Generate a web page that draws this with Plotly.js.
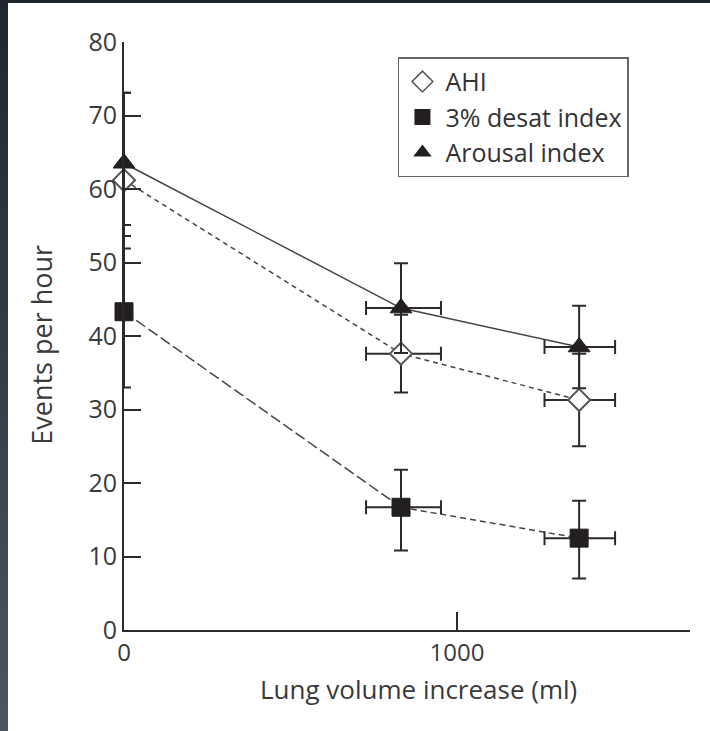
<!DOCTYPE html>
<html>
<head>
<meta charset="utf-8">
<script src="https://cdn.plot.ly/plotly-3.0.1.min.js"></script>
<style>
  html, body { margin: 0; padding: 0; }
  #frame { position: relative; width: 710px; height: 731px; background: linear-gradient(#1f262e, #4b5661); overflow: hidden; }
  #chart { position: absolute; left: 8px; top: 3px; width: 702px; height: 728px; background: #fff; }
</style>
</head>
<body>
<div id="frame"><div id="chart"></div></div>
<script>
// Lung volume increase (ml)
const volume = [0, 832, 1367];
const volumeErrMinus = [0, 105, 104];
const volumeErrPlus = [0, 120, 108];

// Events per hour
const ahi = [61.2, 37.6, 31.3];
const ahiErrPlus = [11.9, 5.3, 6.3];
const ahiErrMinus = [9.3, 5.3, 6.3];

const desat = [43.3, 16.7, 12.5];
const desatErrPlus = [10.3, 5.1, 5.1];
const desatErrMinus = [10.3, 5.9, 5.5];

const arousal = [63.5, 43.8, 38.5];
const arousalErrPlus = [9.6, 6.1, 5.6];
const arousalErrMinus = [8.4, 6.1, 5.6];

const seriesNames = ['AHI', '3% desat index', 'Arousal index'];
const xTickVals = [0, 1000];
const yTickVals = [0, 10, 20, 30, 40, 50, 60, 70, 80];
const xTitle = 'Lung volume increase (ml)';
const yTitle = 'Events per hour';

const ink = '#2b2b2b';
const lineInk = '#444';
const font = '"Open Sans", Lato, sans-serif';

function errY(plus, minus) {
  return { type: 'data', symmetric: false, array: plus, arrayminus: minus, color: ink, thickness: 2, width: 7 };
}
function errX() {
  return { type: 'data', symmetric: false, array: volumeErrPlus, arrayminus: volumeErrMinus, color: ink, thickness: 2, width: 7 };
}

const traces = [
  // lines
  { x: volume, y: arousal, mode: 'lines', line: { color: lineInk, width: 1.5 }, showlegend: false, hoverinfo: 'skip', cliponaxis: false },
  { x: volume, y: ahi, mode: 'lines', line: { color: lineInk, width: 1.5, dash: '5px,4px' }, showlegend: false, hoverinfo: 'skip', cliponaxis: false },
  { x: volume.slice(0, 2), y: desat.slice(0, 2), mode: 'lines', line: { color: lineInk, width: 1.5, dash: '11px,4px' }, showlegend: false, hoverinfo: 'skip', cliponaxis: false },
  { x: volume.slice(1), y: desat.slice(1), mode: 'lines', line: { color: lineInk, width: 1.5, dash: '6px,4px' }, showlegend: false, hoverinfo: 'skip', cliponaxis: false },
  // markers with error bars
  { x: volume, y: desat, mode: 'markers', error_y: errY(desatErrPlus, desatErrMinus), error_x: errX(), cliponaxis: false,
    marker: { symbol: 'square', size: 18, color: '#231f20', line: { color: '#231f20', width: 1 } }, showlegend: false },
  { x: volume, y: ahi, mode: 'markers', error_y: errY(ahiErrPlus, ahiErrMinus), error_x: errX(), cliponaxis: false,
    marker: { symbol: 'diamond', size: 17, color: '#fff', line: { color: '#555', width: 2 } }, showlegend: false },
  { x: volume, y: arousal, mode: 'markers', error_y: errY(arousalErrPlus, arousalErrMinus), error_x: errX(), cliponaxis: false,
    marker: { symbol: 'triangle-up', size: 19, color: '#231f20', line: { color: '#231f20', width: 1 } }, showlegend: false },
  // legend entries
  { x: [null], y: [null], mode: 'markers', name: seriesNames[0], marker: { symbol: 'diamond', size: 16, color: '#fff', line: { color: '#555', width: 1.5 } } },
  { x: [null], y: [null], mode: 'markers', name: seriesNames[1], marker: { symbol: 'square', size: 16, color: '#231f20' } },
  { x: [null], y: [null], mode: 'markers', name: seriesNames[2], marker: { symbol: 'triangle-up', size: 16, color: '#231f20' } }
];

const layout = {
  width: 702, height: 728,
  margin: { l: 116, r: 20, t: 39, b: 101 },
  paper_bgcolor: '#fff', plot_bgcolor: '#fff',
  font: { family: font, color: '#3a3a3a', size: 24 },
  showlegend: true,
  legend: {
    x: 0.484, y: 0.974, xanchor: 'left', yanchor: 'top',
    bgcolor: '#fff', bordercolor: '#666', borderwidth: 1.5,
    font: { family: font, size: 25, color: '#333' },
    itemsizing: 'trace', tracegroupgap: 0, itemwidth: 36
  },
  xaxis: {
    range: [0, 1700], tickvals: xTickVals, ticktext: xTickVals.map(String),
    ticks: 'inside', ticklen: 18, tickwidth: 2, tickcolor: ink,
    showline: true, linecolor: ink, linewidth: 2, showgrid: false, zeroline: false,
    tickfont: { size: 24 }
  },
  yaxis: {
    range: [0, 80], tickvals: yTickVals, ticktext: yTickVals.map(String),
    ticks: 'inside', ticklen: 17, tickwidth: 2, tickcolor: ink,
    showline: true, linecolor: ink, linewidth: 2, showgrid: false, zeroline: false,
    tickfont: { size: 25 }
  },
  annotations: [
    { text: xTitle, xref: 'paper', yref: 'paper', x: 0.521, y: -0.1, xanchor: 'center', yanchor: 'middle',
      showarrow: false, font: { family: font, size: 26, color: '#3a3a3a' } },
    { text: yTitle, xref: 'paper', yref: 'paper', x: -0.145, y: 0.485, xanchor: 'center', yanchor: 'middle',
      textangle: -90, showarrow: false, font: { family: font, size: 27, color: '#3a3a3a' } }
  ]
};

Plotly.newPlot('chart', traces, layout, { displayModeBar: false, staticPlot: true });
</script>
</body>
</html>
